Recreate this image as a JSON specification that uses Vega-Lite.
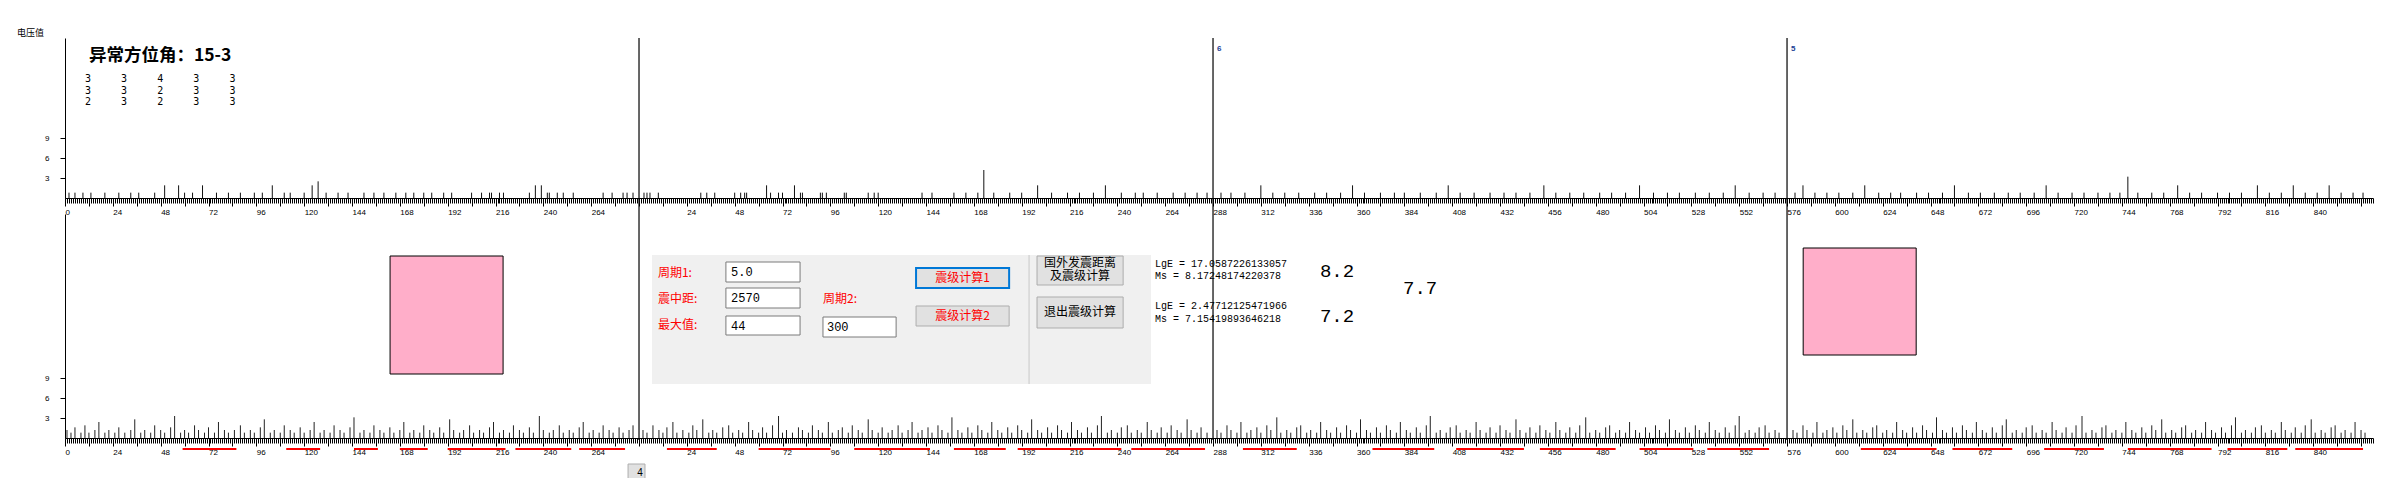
{
"$schema":"https://vega.github.io/schema/vega-lite/v6.json",
"width":2389,"height":478,"autosize":{"type":"none"},"padding":0,"background":"#ffffff",
"config":{"view":{"stroke":null},"axis":{"grid":false}},
"datasets":{
"topbars":[{"p":2,"v":0.8},{"p":5,"v":0.8},{"p":9,"v":0.8},{"p":13,"v":0.8},{"p":20,"v":0.8},{"p":27,"v":0.8},{"p":33,"v":0.8},{"p":37,"v":0.8},{"p":45,"v":0.8},{"p":50,"v":1.9},{"p":57,"v":1.9},{"p":60,"v":0.8},{"p":64,"v":0.8},{"p":69,"v":1.9},{"p":76,"v":0.8},{"p":82,"v":0.8},{"p":88,"v":0.8},{"p":95,"v":0.8},{"p":99,"v":0.8},{"p":104,"v":1.9},{"p":110,"v":0.8},{"p":113,"v":0.8},{"p":120,"v":0.8},{"p":124,"v":1.9},{"p":127,"v":2.5},{"p":131,"v":0.8},{"p":137,"v":0.8},{"p":142,"v":0.8},{"p":150,"v":0.8},{"p":155,"v":0.8},{"p":160,"v":0.8},{"p":166,"v":0.8},{"p":171,"v":0.8},{"p":175,"v":0.8},{"p":180,"v":0.8},{"p":184,"v":0.8},{"p":190,"v":0.8},{"p":194,"v":0.8},{"p":204,"v":0.8},{"p":209,"v":0.8},{"p":213,"v":0.8},{"p":214,"v":0.8},{"p":218,"v":0.8},{"p":220,"v":0.8},{"p":233,"v":0.8},{"p":236,"v":1.9},{"p":239,"v":1.9},{"p":242,"v":0.8},{"p":243,"v":0.8},{"p":247,"v":0.8},{"p":250,"v":0.8},{"p":255,"v":0.8},{"p":270,"v":0.8},{"p":274.5,"v":0.8},{"p":280,"v":0.8},{"p":282,"v":0.8},{"p":285,"v":0.8},
{"p":290.5,"v":0.8},{"p":292,"v":0.8},{"p":293.5,"v":0.8},{"p":297.7,"v":0.8},{"p":319,"v":0.8},{"p":322,"v":0.8},{"p":326,"v":0.8},{"p":336,"v":0.8},{"p":339,"v":0.8},{"p":341,"v":0.8},{"p":342,"v":0.8},{"p":352,"v":1.9},{"p":354,"v":0.8},{"p":358,"v":0.8},{"p":360,"v":0.8},{"p":366,"v":1.9},{"p":369,"v":0.8},{"p":370,"v":0.8},{"p":379,"v":0.8},{"p":380,"v":0.8},{"p":382,"v":0.8},{"p":391,"v":0.8},{"p":392,"v":0.8},{"p":403,"v":0.8},{"p":406,"v":0.8},{"p":408,"v":0.8},{"p":430,"v":0.8},{"p":435,"v":0.8},{"p":446,"v":0.8},{"p":452,"v":0.8},{"p":458,"v":0.8},{"p":461,"v":4.2},{"p":466,"v":0.8},{"p":474,"v":0.8},{"p":480,"v":0.8},{"p":488,"v":1.9},{"p":495,"v":0.8},{"p":503,"v":0.8},{"p":509,"v":0.8},{"p":516,"v":0.8},{"p":522,"v":1.9},{"p":530,"v":0.8},{"p":537,"v":0.8},{"p":541,"v":0.8},{"p":548,"v":0.8},{"p":556,"v":0.8},{"p":562,"v":0.8},{"p":568,"v":0.8},{"p":573,"v":0.8},
{"p":580,"v":0.8},{"p":585,"v":0.8},{"p":592,"v":0.8},{"p":600,"v":1.9},{"p":606,"v":0.8},{"p":612,"v":0.8},{"p":619,"v":0.8},{"p":627,"v":0.8},{"p":633,"v":0.8},{"p":640,"v":0.8},{"p":646,"v":1.9},{"p":652,"v":0.8},{"p":660,"v":0.8},{"p":667,"v":0.8},{"p":672,"v":0.8},{"p":680,"v":0.8},{"p":688,"v":0.8},{"p":694,"v":1.9},{"p":700,"v":0.8},{"p":707,"v":0.8},{"p":715,"v":0.8},{"p":722,"v":0.8},{"p":728,"v":0.8},{"p":735,"v":0.8},{"p":742,"v":1.9},{"p":748,"v":0.8},{"p":755,"v":0.8},{"p":762,"v":0.8},{"p":770,"v":0.8},{"p":776,"v":0.8},{"p":783,"v":0.8},{"p":790,"v":1.9},{"p":797,"v":0.8},{"p":804,"v":0.8},{"p":810,"v":0.8},{"p":818,"v":0.8},{"p":825,"v":0.8},{"p":832,"v":0.8},{"p":838,"v":1.9},{"p":845,"v":0.8},{"p":852,"v":0.8},{"p":858,"v":0.8},
{"p":868,"v":0.8},{"p":872,"v":1.9},{"p":878,"v":0.8},{"p":884,"v":0.8},{"p":890,"v":0.8},{"p":897,"v":0.8},{"p":903,"v":1.9},{"p":910,"v":0.8},{"p":916,"v":0.8},{"p":921,"v":0.8},{"p":929,"v":0.8},{"p":935,"v":0.8},{"p":942,"v":0.8},{"p":948,"v":1.9},{"p":955,"v":0.8},{"p":961,"v":0.8},{"p":968,"v":0.8},{"p":975,"v":0.8},{"p":981,"v":0.8},{"p":988,"v":0.8},{"p":994,"v":1.9},{"p":1000,"v":0.8},{"p":1007,"v":0.8},{"p":1013,"v":0.8},{"p":1020,"v":0.8},{"p":1026,"v":0.8},{"p":1031,"v":0.8},{"p":1035,"v":3.2},{"p":1040,"v":0.8},{"p":1047,"v":0.8},{"p":1053,"v":0.8},{"p":1060,"v":1.9},{"p":1066,"v":0.8},{"p":1072,"v":0.8},{"p":1080,"v":0.8},{"p":1086,"v":0.8},{"p":1092,"v":0.8},{"p":1100,"v":1.9},{"p":1106,"v":0.8},{"p":1112,"v":0.8},{"p":1118,"v":1.9},{"p":1124,"v":0.8},{"p":1130,"v":0.8},{"p":1136,"v":1.9},{"p":1142,"v":0.8},{"p":1148,"v":0.8},{"p":1153,"v":0.8}],
"botbars":[{"p":1,"v":1.2},{"p":3,"v":0.8},{"p":5,"v":1.6},{"p":8,"v":0.8},{"p":10,"v":1.9},{"p":12,"v":0.8},{"p":15,"v":1.2},{"p":17,"v":2.4},{"p":20,"v":0.8},{"p":22,"v":1.2},{"p":25,"v":0.8},{"p":27,"v":1.6},{"p":30,"v":0.8},{"p":33,"v":1.2},{"p":35,"v":2.8},{"p":38,"v":0.8},{"p":40,"v":1.2},{"p":43,"v":0.8},{"p":45,"v":1.9},{"p":48,"v":1.2},{"p":50,"v":0.8},{"p":53,"v":1.6},{"p":55,"v":3.3},{"p":58,"v":0.8},{"p":60,"v":1.2},{"p":62,"v":0.8},{"p":65,"v":1.9},{"p":67,"v":1.2},{"p":70,"v":0.8},{"p":72,"v":1.6},{"p":75,"v":0.8},{"p":77,"v":2.4},{"p":80,"v":1.2},{"p":82,"v":0.8},{"p":85,"v":1.2},{"p":88,"v":1.9},{"p":90,"v":0.8},{"p":93,"v":1.2},{"p":95,"v":0.8},{"p":98,"v":1.6},{"p":100,"v":2.8},{"p":103,"v":0.8},{"p":105,"v":1.2},{"p":108,"v":0.8},{"p":110,"v":1.9},{"p":113,"v":1.2},{"p":115,"v":0.8},{"p":118,"v":1.6},{"p":120,"v":0.8},{"p":123,"v":1.2},{"p":125,"v":2.4},{"p":128,"v":0.8},{"p":130,"v":1.2},{"p":133,"v":0.8},{"p":135,"v":1.9},{"p":138,"v":1.2},{"p":140,"v":0.8},{"p":143,"v":1.6},{"p":145,"v":3.1},{"p":148,"v":0.8},{"p":150,"v":1.2},{"p":153,"v":0.8},{"p":155,"v":1.9},{"p":158,"v":1.2},{"p":160,"v":0.8},{"p":163,"v":1.6},{"p":165,"v":0.8},{"p":168,"v":1.2},{"p":170,"v":2.4},{"p":173,"v":0.8},{"p":175,"v":1.2},{"p":178,"v":0.8},{"p":180,"v":1.9},{"p":183,"v":1.2},{"p":185,"v":0.8},{"p":188,"v":1.6},{"p":190,"v":0.8},{"p":193,"v":2.8},{"p":195,"v":1.2},{"p":198,"v":0.8},{"p":200,"v":1.2},{"p":203,"v":1.9},{"p":205,"v":0.8},{"p":208,"v":1.2},{"p":210,"v":0.8},{"p":213,"v":1.6},{"p":215,"v":2.4},{"p":218,"v":0.8},{"p":220,"v":1.2},{"p":223,"v":0.8},{"p":225,"v":1.9},{"p":228,"v":1.2},{"p":230,"v":0.8},{"p":233,"v":1.6},{"p":235,"v":0.8},{"p":238,"v":3.3},{"p":240,"v":1.2},{"p":243,"v":0.8},{"p":245,"v":1.2},{"p":248,"v":1.9},{"p":250,"v":0.8},{"p":253,"v":1.2},{"p":255,"v":0.8},{"p":258,"v":1.6},{"p":260,"v":2.4},{"p":263,"v":0.8},{"p":265,"v":1.2},{"p":268,"v":0.8},{"p":270,"v":1.9},{"p":273,"v":1.2},{"p":275,"v":0.8},{"p":278,"v":1.6},{"p":280,"v":0.8},{"p":283,"v":1.2},{"p":285,"v":1.9},
{"p":290,"v":1.2},{"p":292,"v":0.8},{"p":295,"v":1.9},{"p":298,"v":1.2},{"p":300,"v":0.8},{"p":302,"v":1.6},{"p":305,"v":2.4},{"p":307,"v":0.8},{"p":310,"v":1.2},{"p":313,"v":0.8},{"p":315,"v":1.9},{"p":317,"v":1.2},{"p":320,"v":2.8},{"p":323,"v":0.8},{"p":325,"v":1.2},{"p":327,"v":0.8},{"p":330,"v":1.6},{"p":333,"v":1.9},{"p":335,"v":0.8},{"p":338,"v":1.2},{"p":340,"v":0.8},{"p":343,"v":2.4},{"p":345,"v":1.2},{"p":348,"v":0.8},{"p":350,"v":1.6},{"p":352,"v":0.8},{"p":355,"v":1.9},{"p":358,"v":3.3},{"p":360,"v":0.8},{"p":362,"v":1.2},{"p":365,"v":0.8},{"p":368,"v":1.6},{"p":370,"v":1.2},{"p":373,"v":0.8},{"p":375,"v":1.9},{"p":378,"v":1.2},{"p":380,"v":0.8},{"p":383,"v":2.4},{"p":385,"v":0.8},{"p":388,"v":1.2},{"p":390,"v":1.6},{"p":393,"v":0.8},{"p":395,"v":1.9},{"p":398,"v":1.2},{"p":400,"v":0.8},{"p":403,"v":2.8},{"p":405,"v":1.2},{"p":408,"v":0.8},{"p":410,"v":1.6},{"p":413,"v":0.8},{"p":415,"v":1.2},{"p":418,"v":1.9},{"p":420,"v":0.8},{"p":423,"v":1.2},{"p":425,"v":2.4},{"p":428,"v":0.8},{"p":430,"v":1.2},{"p":433,"v":1.6},{"p":435,"v":0.8},{"p":438,"v":1.9},{"p":440,"v":1.2},{"p":443,"v":0.8},{"p":445,"v":3.1},{"p":448,"v":1.2},{"p":450,"v":0.8},{"p":453,"v":1.6},{"p":455,"v":0.8},{"p":458,"v":1.9},{"p":460,"v":1.2},{"p":463,"v":0.8},{"p":465,"v":2.4},{"p":468,"v":1.2},{"p":470,"v":0.8},{"p":473,"v":1.6},{"p":475,"v":0.8},{"p":478,"v":1.9},{"p":480,"v":1.2},{"p":483,"v":0.8},{"p":485,"v":2.8},{"p":488,"v":1.2},{"p":490,"v":0.8},{"p":493,"v":1.6},{"p":495,"v":0.8},{"p":498,"v":1.9},{"p":500,"v":1.2},{"p":503,"v":0.8},{"p":505,"v":2.4},{"p":508,"v":1.2},{"p":510,"v":0.8},{"p":513,"v":1.6},{"p":515,"v":0.8},{"p":518,"v":1.9},{"p":520,"v":3.3},{"p":523,"v":0.8},{"p":525,"v":1.2},{"p":528,"v":0.8},{"p":530,"v":1.6},{"p":533,"v":1.9},{"p":535,"v":0.8},{"p":538,"v":1.2},{"p":540,"v":0.8},{"p":543,"v":2.4},{"p":545,"v":1.2},{"p":548,"v":0.8},{"p":550,"v":1.6},{"p":553,"v":0.8},{"p":555,"v":1.9},{"p":558,"v":1.2},{"p":560,"v":0.8},{"p":563,"v":2.8},{"p":565,"v":1.2},{"p":568,"v":0.8},{"p":570,"v":1.6},{"p":573,"v":0.8},
{"p":578,"v":1.2},{"p":580,"v":0.8},{"p":583,"v":1.9},{"p":585,"v":1.2},{"p":588,"v":0.8},{"p":590,"v":2.4},{"p":593,"v":0.8},{"p":595,"v":1.2},{"p":598,"v":1.6},{"p":600,"v":0.8},{"p":603,"v":1.9},{"p":605,"v":1.2},{"p":608,"v":3.1},{"p":610,"v":0.8},{"p":613,"v":1.2},{"p":615,"v":0.8},{"p":618,"v":1.6},{"p":620,"v":1.9},{"p":623,"v":0.8},{"p":625,"v":1.2},{"p":628,"v":0.8},{"p":630,"v":2.4},{"p":633,"v":1.2},{"p":635,"v":0.8},{"p":638,"v":1.6},{"p":640,"v":0.8},{"p":643,"v":1.9},{"p":645,"v":1.2},{"p":648,"v":0.8},{"p":650,"v":2.8},{"p":653,"v":1.2},{"p":655,"v":0.8},{"p":658,"v":1.6},{"p":660,"v":0.8},{"p":663,"v":1.9},{"p":665,"v":1.2},{"p":668,"v":0.8},{"p":670,"v":2.4},{"p":673,"v":1.2},{"p":675,"v":0.8},{"p":678,"v":1.6},{"p":680,"v":0.8},{"p":683,"v":1.9},{"p":685,"v":3.3},{"p":688,"v":0.8},{"p":690,"v":1.2},{"p":693,"v":0.8},{"p":695,"v":1.6},{"p":698,"v":1.9},{"p":700,"v":0.8},{"p":703,"v":1.2},{"p":705,"v":0.8},{"p":708,"v":2.4},{"p":710,"v":1.2},{"p":713,"v":0.8},{"p":715,"v":1.6},{"p":718,"v":0.8},{"p":720,"v":1.9},{"p":723,"v":1.2},{"p":725,"v":0.8},{"p":728,"v":2.8},{"p":730,"v":1.2},{"p":733,"v":0.8},{"p":735,"v":1.6},{"p":738,"v":0.8},{"p":740,"v":1.9},{"p":743,"v":1.2},{"p":745,"v":0.8},{"p":748,"v":2.4},{"p":750,"v":1.2},{"p":753,"v":0.8},{"p":755,"v":1.6},{"p":758,"v":0.8},{"p":760,"v":1.9},{"p":763,"v":3.1},{"p":765,"v":0.8},{"p":768,"v":1.2},{"p":770,"v":0.8},{"p":773,"v":1.6},{"p":775,"v":1.9},{"p":778,"v":0.8},{"p":780,"v":1.2},{"p":783,"v":0.8},{"p":785,"v":2.4},{"p":788,"v":1.2},{"p":790,"v":0.8},{"p":793,"v":1.6},{"p":795,"v":0.8},{"p":798,"v":1.9},{"p":800,"v":1.2},{"p":803,"v":0.8},{"p":805,"v":2.8},{"p":808,"v":1.2},{"p":810,"v":0.8},{"p":813,"v":1.6},{"p":815,"v":0.8},{"p":818,"v":1.9},{"p":820,"v":1.2},{"p":823,"v":0.8},{"p":825,"v":2.4},{"p":828,"v":1.2},{"p":830,"v":0.8},{"p":833,"v":1.6},{"p":835,"v":0.8},{"p":838,"v":1.9},{"p":840,"v":3.3},{"p":843,"v":0.8},{"p":845,"v":1.2},{"p":848,"v":0.8},{"p":850,"v":1.6},{"p":853,"v":1.9},{"p":855,"v":0.8},{"p":858,"v":1.2},{"p":860,"v":0.8},
{"p":867,"v":1.2},{"p":869,"v":0.8},{"p":872,"v":1.9},{"p":874,"v":1.2},{"p":877,"v":0.8},{"p":879,"v":2.4},{"p":882,"v":0.8},{"p":884,"v":1.2},{"p":887,"v":1.6},{"p":889,"v":0.8},{"p":892,"v":1.9},{"p":894,"v":1.2},{"p":897,"v":2.8},{"p":899,"v":0.8},{"p":902,"v":1.2},{"p":904,"v":0.8},{"p":907,"v":1.6},{"p":909,"v":1.9},{"p":912,"v":0.8},{"p":914,"v":1.2},{"p":917,"v":0.8},{"p":919,"v":2.4},{"p":922,"v":1.2},{"p":924,"v":0.8},{"p":927,"v":1.6},{"p":929,"v":0.8},{"p":932,"v":1.9},{"p":934,"v":1.2},{"p":937,"v":0.8},{"p":939,"v":3.1},{"p":942,"v":1.2},{"p":944,"v":0.8},{"p":947,"v":1.6},{"p":949,"v":0.8},{"p":952,"v":1.9},{"p":954,"v":1.2},{"p":957,"v":0.8},{"p":959,"v":2.4},{"p":962,"v":1.2},{"p":964,"v":0.8},{"p":967,"v":1.6},{"p":969,"v":0.8},{"p":972,"v":1.9},{"p":974,"v":2.8},{"p":977,"v":0.8},{"p":979,"v":1.2},{"p":982,"v":0.8},{"p":984,"v":1.6},{"p":987,"v":1.9},{"p":989,"v":0.8},{"p":992,"v":1.2},{"p":994,"v":0.8},{"p":997,"v":2.4},{"p":999,"v":1.2},{"p":1002,"v":0.8},{"p":1004,"v":1.6},{"p":1007,"v":0.8},{"p":1009,"v":1.9},{"p":1012,"v":3.3},{"p":1014,"v":0.8},{"p":1017,"v":1.2},{"p":1019,"v":0.8},{"p":1022,"v":1.6},{"p":1024,"v":1.9},{"p":1027,"v":0.8},{"p":1029,"v":1.2},{"p":1032,"v":0.8},{"p":1034,"v":2.4},{"p":1037,"v":1.2},{"p":1039,"v":0.8},{"p":1042,"v":1.6},{"p":1044,"v":0.8},{"p":1047,"v":1.9},{"p":1049,"v":1.2},{"p":1052,"v":2.8},{"p":1054,"v":0.8},{"p":1057,"v":1.2},{"p":1059,"v":0.8},{"p":1062,"v":1.6},{"p":1064,"v":1.9},{"p":1067,"v":0.8},{"p":1069,"v":1.2},{"p":1072,"v":0.8},{"p":1074,"v":2.4},{"p":1077,"v":1.2},{"p":1079,"v":0.8},{"p":1082,"v":1.6},{"p":1084,"v":0.8},{"p":1087,"v":1.9},{"p":1089,"v":3.1},{"p":1092,"v":0.8},{"p":1094,"v":1.2},{"p":1097,"v":0.8},{"p":1099,"v":1.6},{"p":1102,"v":1.9},{"p":1104,"v":0.8},{"p":1107,"v":1.2},{"p":1109,"v":0.8},{"p":1112,"v":2.4},{"p":1114,"v":1.2},{"p":1117,"v":0.8},{"p":1119,"v":1.6},{"p":1122,"v":0.8},{"p":1124,"v":1.9},{"p":1127,"v":2.8},{"p":1129,"v":0.8},{"p":1132,"v":1.2},{"p":1134,"v":0.8},{"p":1137,"v":1.6},{"p":1139,"v":1.9},{"p":1142,"v":0.8},{"p":1144,"v":1.2},{"p":1147,"v":0.8},{"p":1149,"v":2.4},{"p":1152,"v":1.2},{"p":1154,"v":0.8}],
"redsegs":[{"a":59,"b":86},{"a":111,"b":128},{"a":145,"b":157},{"a":168,"b":182},{"a":192,"b":221},{"a":226,"b":254},{"a":258,"b":281},{"a":302,"b":327},{"a":348,"b":384},{"a":396,"b":434},{"a":446,"b":472},{"a":478,"b":530},{"a":535,"b":572},{"a":591,"b":618},{"a":656,"b":687},{"a":698,"b":732},{"a":740,"b":778},{"a":790,"b":817},{"a":824,"b":855},{"a":901,"b":939},{"a":947,"b":977},{"a":993,"b":1023},{"a":1035,"b":1077},{"a":1085,"b":1115},{"a":1119,"b":1153}],
"seps":[{"p":288,"seg":""},{"p":576,"seg":"6"},{"p":864,"seg":"5"}]
},
"layer":[
 {"data":{"name":"topbars"},"mark":{"type":"rule","color":"#111111","strokeWidth":1},
  "encoding":{
   "x":{"field":"p","type":"quantitative","scale":{"domain":[0,1158],"range":[65,2373],"nice":false,"zero":false},
        "axis":{"orient":"bottom","offset":-280,"tickCount":1158,"grid":false,"domain":true,"domainColor":"#000000","domainWidth":1.2,"ticks":true,"tickColor":"#000000","tickWidth":1,"tickSize":5,"labels":false,"title":null}},
   "y":{"field":"v","type":"quantitative","scale":{"domain":[0,24],"range":[198,38],"nice":false,"zero":false},
        "axis":{"orient":"left","offset":-65,"values":[3,6,9],"grid":false,"domainColor":"#000000","tickColor":"#000000","tickSize":5,"labelFont":"Liberation Sans","labelFontSize":8,"labelColor":"#000000","labelPadding":11,
                "title":"电压值","titleFont":"Noto Sans CJK SC","titleFontSize":9,"titleFontWeight":"normal","titleAngle":0,"titleX":-35,"titleY":32,"titleAlign":"center","titleBaseline":"middle","titleColor":"#000000"}},
   "y2":{"datum":0}}},
 {"data":{"name":"seps"},"mark":{"type":"rule","color":"#000000","strokeWidth":1.2},
  "encoding":{"x":{"field":"p","type":"quantitative","scale":{"domain":[0,1158],"range":[65,2373],"nice":false,"zero":false},
        "axis":{"orient":"bottom","offset":-280,"values":[0,12,24,36,48,60,72,84,96,108,120,132,144,156,168,180,192,204,216,228,240,252,264,276,288,300,312,324,336,348,360,372,384,396,408,420,432,444,456,468,480,492,504,516,528,540,552,564,576,588,600,612,624,636,648,660,672,684,696,708,720,732,744,756,768,780,792,804,816,828,840,852,864,876,888,900,912,924,936,948,960,972,984,996,1008,1020,1032,1044,1056,1068,1080,1092,1104,1116,1128,1140,1152],
                "grid":false,"domain":false,"ticks":true,"tickColor":"#000000","tickWidth":1,"tickSize":8,
                "labelExpr":"(datum.value % 24 !== 0 || datum.value === 288 || datum.value > 1140) ? '' : (datum.value < 288 ? datum.label : format(datum.value - 288, 'd'))",
                "labelAlign":"left","labelBaseline":"top","labelPadding":2,"labelFont":"Liberation Sans","labelFontSize":8,"labelColor":"#000000","labelOverlap":false,"labelFlush":false,"labelBound":false,"title":null}},
   "y":{"datum":24,"type":"quantitative","scale":{"domain":[0,24],"range":[198,38],"nice":false,"zero":false},"axis":null},"y2":{"datum":-36.3}}},
 {"data":{"name":"seps"},"mark":{"type":"text","align":"left","baseline":"middle","dx":4,"font":"Liberation Sans","fontSize":8,"fontWeight":"bold","color":"#1c3f94"},
  "encoding":{"text":{"field":"seg","type":"nominal"},"x":{"field":"p","type":"quantitative","scale":{"domain":[0,1158],"range":[65,2373],"nice":false,"zero":false},"axis":null},
   "y":{"datum":22.35,"type":"quantitative","scale":{"domain":[0,24],"range":[198,38],"nice":false,"zero":false},"axis":null}}},
 {"data":{"values":[{"t":"异常方位角：15-3"}]},"mark":{"type":"text","align":"left","baseline":"middle","font":"Noto Sans CJK SC","fontSize":17.5,"fontWeight":"bold","color":"#000000"},
  "encoding":{"text":{"field":"t","type":"nominal"},"x":{"datum":12,"type":"quantitative","scale":{"domain":[0,1158],"range":[65,2373],"nice":false,"zero":false},"axis":null},
   "y":{"datum":21.3,"type":"quantitative","scale":{"domain":[0,24],"range":[198,38],"nice":false,"zero":false},"axis":null}}},
 {"data":{"values":[{"t":"3\u00a0\u00a0\u00a0\u00a0\u00a03\u00a0\u00a0\u00a0\u00a0\u00a04\u00a0\u00a0\u00a0\u00a0\u00a03\u00a0\u00a0\u00a0\u00a0\u00a03\n3\u00a0\u00a0\u00a0\u00a0\u00a03\u00a0\u00a0\u00a0\u00a0\u00a02\u00a0\u00a0\u00a0\u00a0\u00a03\u00a0\u00a0\u00a0\u00a0\u00a03\n2\u00a0\u00a0\u00a0\u00a0\u00a03\u00a0\u00a0\u00a0\u00a0\u00a02\u00a0\u00a0\u00a0\u00a0\u00a03\u00a0\u00a0\u00a0\u00a0\u00a03"}]},
  "mark":{"type":"text","align":"left","baseline":"middle","lineBreak":"\n","lineHeight":11.5,"font":"DejaVu Sans Mono","fontSize":10,"color":"#000000"},
  "encoding":{"text":{"field":"t","type":"nominal"},"x":{"datum":10,"type":"quantitative","scale":{"domain":[0,1158],"range":[65,2373],"nice":false,"zero":false},"axis":null},
   "y":{"datum":17.8,"type":"quantitative","scale":{"domain":[0,24],"range":[198,38],"nice":false,"zero":false},"axis":null}}},
 {"data":{"name":"botbars"},"mark":{"type":"rule","color":"#222222","strokeWidth":1},
  "encoding":{
   "x":{"field":"p","type":"quantitative","scale":{"domain":[0,1158],"range":[65,2373],"nice":false,"zero":false},
        "axis":{"orient":"bottom","offset":-40,"tickCount":1158,"grid":false,"domain":true,"domainColor":"#000000","domainWidth":1.2,"ticks":true,"tickColor":"#000000","tickWidth":1,"tickSize":5,"labels":false,"title":null}},
   "y":{"field":"v","type":"quantitative","scale":{"domain":[0,33.6],"range":[438,214],"nice":false,"zero":false},
        "axis":{"orient":"left","offset":-65,"values":[3,6,9],"grid":false,"domainColor":"#000000","tickColor":"#000000","tickSize":5,"labelFont":"Liberation Sans","labelFontSize":8,"labelColor":"#000000","labelPadding":11,"title":null}},
   "y2":{"datum":0}}},
 {"data":{"name":"redsegs"},"mark":{"type":"rule","color":"#ff0000","strokeWidth":2},
  "encoding":{"x":{"field":"a","type":"quantitative","scale":{"domain":[0,1158],"range":[65,2373],"nice":false,"zero":false},
        "axis":{"orient":"bottom","offset":-40,"values":[0,12,24,36,48,60,72,84,96,108,120,132,144,156,168,180,192,204,216,228,240,252,264,276,288,300,312,324,336,348,360,372,384,396,408,420,432,444,456,468,480,492,504,516,528,540,552,564,576,588,600,612,624,636,648,660,672,684,696,708,720,732,744,756,768,780,792,804,816,828,840,852,864,876,888,900,912,924,936,948,960,972,984,996,1008,1020,1032,1044,1056,1068,1080,1092,1104,1116,1128,1140,1152],
                "grid":false,"domain":false,"ticks":true,"tickColor":"#000000","tickWidth":1,"tickSize":8,
                "labelExpr":"(datum.value % 24 !== 0 || datum.value === 288 || datum.value > 1140) ? '' : (datum.value < 288 ? datum.label : format(datum.value - 288, 'd'))",
                "labelAlign":"left","labelBaseline":"top","labelPadding":2,"labelFont":"Liberation Sans","labelFontSize":8,"labelColor":"#000000","labelOverlap":false,"labelFlush":false,"labelBound":false,"title":null}},
   "x2":{"field":"b"},
   "y":{"datum":-1.65,"type":"quantitative","scale":{"domain":[0,33.6],"range":[438,214],"nice":false,"zero":false},"axis":null}}},
 {"data":{"values":[{}]},"mark":{"type":"rect","fill":"#ffaec9","stroke":"#000000","strokeWidth":1},
  "encoding":{"x":{"datum":163.1,"type":"quantitative","scale":{"domain":[0,1158],"range":[65,2373],"nice":false,"zero":false},"axis":null},"x2":{"datum":219.8},
   "y":{"datum":27.3,"type":"quantitative","scale":{"domain":[0,33.6],"range":[438,214],"nice":false,"zero":false},"axis":null},"y2":{"datum":9.6}}},
 {"data":{"values":[{}]},"mark":{"type":"rect","fill":"#ffaec9","stroke":"#000000","strokeWidth":1},
  "encoding":{"x":{"datum":872.1,"type":"quantitative","scale":{"domain":[0,1158],"range":[65,2373],"nice":false,"zero":false},"axis":null},"x2":{"datum":928.8},
   "y":{"datum":28.5,"type":"quantitative","scale":{"domain":[0,33.6],"range":[438,214],"nice":false,"zero":false},"axis":null},"y2":{"datum":12.45}}},
 {"data":{"values":[{}]},"mark":{"type":"rect","fill":"#f0f0f0"},
  "encoding":{"x":{"datum":294.5,"type":"quantitative","scale":{"domain":[0,1158],"range":[65,2373],"nice":false,"zero":false},"axis":null},"x2":{"datum":544.9},
   "y":{"datum":27.45,"type":"quantitative","scale":{"domain":[0,33.6],"range":[438,214],"nice":false,"zero":false},"axis":null},"y2":{"datum":8.1}}},
 {"data":{"values":[{}]},"mark":{"type":"rule","color":"#c8c8c8","strokeWidth":1},
  "encoding":{"x":{"datum":483.7,"type":"quantitative","scale":{"domain":[0,1158],"range":[65,2373],"nice":false,"zero":false},"axis":null},
   "y":{"datum":27.45,"type":"quantitative","scale":{"domain":[0,33.6],"range":[438,214],"nice":false,"zero":false},"axis":null},"y2":{"datum":8.1}}},
 {"data":{"values":[{}]},"mark":{"type":"rect","fill":"#ffffff","stroke":"#7a7a7a","strokeWidth":1},
  "encoding":{"x":{"datum":331.6,"type":"quantitative","scale":{"domain":[0,1158],"range":[65,2373],"nice":false,"zero":false},"axis":null},"x2":{"datum":368.8},
   "y":{"datum":26.4,"type":"quantitative","scale":{"domain":[0,33.6],"range":[438,214],"nice":false,"zero":false},"axis":null},"y2":{"datum":23.4}}},
 {"data":{"values":[{}]},"mark":{"type":"rect","fill":"#ffffff","stroke":"#7a7a7a","strokeWidth":1},
  "encoding":{"x":{"datum":331.6,"type":"quantitative","scale":{"domain":[0,1158],"range":[65,2373],"nice":false,"zero":false},"axis":null},"x2":{"datum":368.8},
   "y":{"datum":22.5,"type":"quantitative","scale":{"domain":[0,33.6],"range":[438,214],"nice":false,"zero":false},"axis":null},"y2":{"datum":19.5}}},
 {"data":{"values":[{}]},"mark":{"type":"rect","fill":"#ffffff","stroke":"#7a7a7a","strokeWidth":1},
  "encoding":{"x":{"datum":331.6,"type":"quantitative","scale":{"domain":[0,1158],"range":[65,2373],"nice":false,"zero":false},"axis":null},"x2":{"datum":368.8},
   "y":{"datum":18.3,"type":"quantitative","scale":{"domain":[0,33.6],"range":[438,214],"nice":false,"zero":false},"axis":null},"y2":{"datum":15.45}}},
 {"data":{"values":[{}]},"mark":{"type":"rect","fill":"#ffffff","stroke":"#7a7a7a","strokeWidth":1},
  "encoding":{"x":{"datum":380.3,"type":"quantitative","scale":{"domain":[0,1158],"range":[65,2373],"nice":false,"zero":false},"axis":null},"x2":{"datum":417},
   "y":{"datum":18.15,"type":"quantitative","scale":{"domain":[0,33.6],"range":[438,214],"nice":false,"zero":false},"axis":null},"y2":{"datum":15.15}}},
 {"data":{"values":[{}]},"mark":{"type":"rect","fill":"#e1e1e1","stroke":"#0078d7","strokeWidth":2},
  "encoding":{"x":{"datum":427,"type":"quantitative","scale":{"domain":[0,1158],"range":[65,2373],"nice":false,"zero":false},"axis":null},"x2":{"datum":473.7},
   "y":{"datum":25.5,"type":"quantitative","scale":{"domain":[0,33.6],"range":[438,214],"nice":false,"zero":false},"axis":null},"y2":{"datum":22.5}}},
 {"data":{"values":[{}]},"mark":{"type":"rect","fill":"#e1e1e1","stroke":"#adadad","strokeWidth":1},
  "encoding":{"x":{"datum":427,"type":"quantitative","scale":{"domain":[0,1158],"range":[65,2373],"nice":false,"zero":false},"axis":null},"x2":{"datum":473.7},
   "y":{"datum":19.8,"type":"quantitative","scale":{"domain":[0,33.6],"range":[438,214],"nice":false,"zero":false},"axis":null},"y2":{"datum":16.8}}},
 {"data":{"values":[{}]},"mark":{"type":"rect","fill":"#e1e1e1","stroke":"#adadad","strokeWidth":1},
  "encoding":{"x":{"datum":487.7,"type":"quantitative","scale":{"domain":[0,1158],"range":[65,2373],"nice":false,"zero":false},"axis":null},"x2":{"datum":530.9},
   "y":{"datum":27.3,"type":"quantitative","scale":{"domain":[0,33.6],"range":[438,214],"nice":false,"zero":false},"axis":null},"y2":{"datum":22.95}}},
 {"data":{"values":[{}]},"mark":{"type":"rect","fill":"#e1e1e1","stroke":"#adadad","strokeWidth":1},
  "encoding":{"x":{"datum":487.7,"type":"quantitative","scale":{"domain":[0,1158],"range":[65,2373],"nice":false,"zero":false},"axis":null},"x2":{"datum":530.9},
   "y":{"datum":21.15,"type":"quantitative","scale":{"domain":[0,33.6],"range":[438,214],"nice":false,"zero":false},"axis":null},"y2":{"datum":16.5}}},
 {"data":{"values":[{}]},"mark":{"type":"rect","fill":"#e1e1e1","stroke":"#adadad","strokeWidth":1},
  "encoding":{"x":{"datum":282.5,"type":"quantitative","scale":{"domain":[0,1158],"range":[65,2373],"nice":false,"zero":false},"axis":null},"x2":{"datum":291},
   "y":{"datum":-3.9,"type":"quantitative","scale":{"domain":[0,33.6],"range":[438,214],"nice":false,"zero":false},"axis":null},"y2":{"datum":-6.6}}},
 {"data":{"values":[{"t":"周期1:"}]},"mark":{"type":"text","align":"left","baseline":"middle","font":"Noto Sans CJK SC","fontSize":12,"color":"#ff0000"},
  "encoding":{"text":{"field":"t","type":"nominal"},"x":{"datum":297.5,"type":"quantitative","scale":{"domain":[0,1158],"range":[65,2373],"nice":false,"zero":false},"axis":null},
   "y":{"datum":24.75,"type":"quantitative","scale":{"domain":[0,33.6],"range":[438,214],"nice":false,"zero":false},"axis":null}}},
 {"data":{"values":[{"t":"震中距:"}]},"mark":{"type":"text","align":"left","baseline":"middle","font":"Noto Sans CJK SC","fontSize":12,"color":"#ff0000"},
  "encoding":{"text":{"field":"t","type":"nominal"},"x":{"datum":297.5,"type":"quantitative","scale":{"domain":[0,1158],"range":[65,2373],"nice":false,"zero":false},"axis":null},
   "y":{"datum":20.85,"type":"quantitative","scale":{"domain":[0,33.6],"range":[438,214],"nice":false,"zero":false},"axis":null}}},
 {"data":{"values":[{"t":"最大值:"}]},"mark":{"type":"text","align":"left","baseline":"middle","font":"Noto Sans CJK SC","fontSize":12,"color":"#ff0000"},
  "encoding":{"text":{"field":"t","type":"nominal"},"x":{"datum":297.5,"type":"quantitative","scale":{"domain":[0,1158],"range":[65,2373],"nice":false,"zero":false},"axis":null},
   "y":{"datum":16.95,"type":"quantitative","scale":{"domain":[0,33.6],"range":[438,214],"nice":false,"zero":false},"axis":null}}},
 {"data":{"values":[{"t":"周期2:"}]},"mark":{"type":"text","align":"left","baseline":"middle","font":"Noto Sans CJK SC","fontSize":12,"color":"#ff0000"},
  "encoding":{"text":{"field":"t","type":"nominal"},"x":{"datum":380.3,"type":"quantitative","scale":{"domain":[0,1158],"range":[65,2373],"nice":false,"zero":false},"axis":null},
   "y":{"datum":20.85,"type":"quantitative","scale":{"domain":[0,33.6],"range":[438,214],"nice":false,"zero":false},"axis":null}}},
 {"data":{"values":[{"t":"5.0"}]},"mark":{"type":"text","align":"left","baseline":"middle","font":"Liberation Mono","fontSize":12,"color":"#000000"},
  "encoding":{"text":{"field":"t","type":"nominal"},"x":{"datum":334.2,"type":"quantitative","scale":{"domain":[0,1158],"range":[65,2373],"nice":false,"zero":false},"axis":null},
   "y":{"datum":24.9,"type":"quantitative","scale":{"domain":[0,33.6],"range":[438,214],"nice":false,"zero":false},"axis":null}}},
 {"data":{"values":[{"t":"2570"}]},"mark":{"type":"text","align":"left","baseline":"middle","font":"Liberation Mono","fontSize":12,"color":"#000000"},
  "encoding":{"text":{"field":"t","type":"nominal"},"x":{"datum":334.2,"type":"quantitative","scale":{"domain":[0,1158],"range":[65,2373],"nice":false,"zero":false},"axis":null},
   "y":{"datum":21.0,"type":"quantitative","scale":{"domain":[0,33.6],"range":[438,214],"nice":false,"zero":false},"axis":null}}},
 {"data":{"values":[{"t":"44"}]},"mark":{"type":"text","align":"left","baseline":"middle","font":"Liberation Mono","fontSize":12,"color":"#000000"},
  "encoding":{"text":{"field":"t","type":"nominal"},"x":{"datum":334.2,"type":"quantitative","scale":{"domain":[0,1158],"range":[65,2373],"nice":false,"zero":false},"axis":null},
   "y":{"datum":16.87,"type":"quantitative","scale":{"domain":[0,33.6],"range":[438,214],"nice":false,"zero":false},"axis":null}}},
 {"data":{"values":[{"t":"300"}]},"mark":{"type":"text","align":"left","baseline":"middle","font":"Liberation Mono","fontSize":12,"color":"#000000"},
  "encoding":{"text":{"field":"t","type":"nominal"},"x":{"datum":382.3,"type":"quantitative","scale":{"domain":[0,1158],"range":[65,2373],"nice":false,"zero":false},"axis":null},
   "y":{"datum":16.65,"type":"quantitative","scale":{"domain":[0,33.6],"range":[438,214],"nice":false,"zero":false},"axis":null}}},
 {"data":{"values":[{"t":"震级计算1"}]},"mark":{"type":"text","align":"center","baseline":"middle","font":"Noto Sans CJK SC","fontSize":12,"color":"#ff0000"},
  "encoding":{"text":{"field":"t","type":"nominal"},"x":{"datum":450.4,"type":"quantitative","scale":{"domain":[0,1158],"range":[65,2373],"nice":false,"zero":false},"axis":null},
   "y":{"datum":24.0,"type":"quantitative","scale":{"domain":[0,33.6],"range":[438,214],"nice":false,"zero":false},"axis":null}}},
 {"data":{"values":[{"t":"震级计算2"}]},"mark":{"type":"text","align":"center","baseline":"middle","font":"Noto Sans CJK SC","fontSize":12,"color":"#ff0000"},
  "encoding":{"text":{"field":"t","type":"nominal"},"x":{"datum":450.4,"type":"quantitative","scale":{"domain":[0,1158],"range":[65,2373],"nice":false,"zero":false},"axis":null},
   "y":{"datum":18.3,"type":"quantitative","scale":{"domain":[0,33.6],"range":[438,214],"nice":false,"zero":false},"axis":null}}},
 {"data":{"values":[{"t":"国外发震距离\n及震级计算"}]},"mark":{"type":"text","align":"center","baseline":"middle","lineBreak":"\n","lineHeight":13,"font":"Noto Sans CJK SC","fontSize":12,"color":"#000000"},
  "encoding":{"text":{"field":"t","type":"nominal"},"x":{"datum":509.3,"type":"quantitative","scale":{"domain":[0,1158],"range":[65,2373],"nice":false,"zero":false},"axis":null},
   "y":{"datum":26.25,"type":"quantitative","scale":{"domain":[0,33.6],"range":[438,214],"nice":false,"zero":false},"axis":null}}},
 {"data":{"values":[{"t":"退出震级计算"}]},"mark":{"type":"text","align":"center","baseline":"middle","font":"Noto Sans CJK SC","fontSize":12,"color":"#000000"},
  "encoding":{"text":{"field":"t","type":"nominal"},"x":{"datum":509.3,"type":"quantitative","scale":{"domain":[0,1158],"range":[65,2373],"nice":false,"zero":false},"axis":null},
   "y":{"datum":18.83,"type":"quantitative","scale":{"domain":[0,33.6],"range":[438,214],"nice":false,"zero":false},"axis":null}}},
 {"data":{"values":[{"t":"LgE = 17.0587226133057\nMs = 8.17248174220378"}]},"mark":{"type":"text","align":"left","baseline":"middle","lineBreak":"\n","lineHeight":12,"font":"Liberation Mono","fontSize":10,"color":"#000000"},
  "encoding":{"text":{"field":"t","type":"nominal"},"x":{"datum":546.9,"type":"quantitative","scale":{"domain":[0,1158],"range":[65,2373],"nice":false,"zero":false},"axis":null},
   "y":{"datum":26.1,"type":"quantitative","scale":{"domain":[0,33.6],"range":[438,214],"nice":false,"zero":false},"axis":null}}},
 {"data":{"values":[{"t":"LgE = 2.47712125471966\nMs = 7.15419893646218"}]},"mark":{"type":"text","align":"left","baseline":"middle","lineBreak":"\n","lineHeight":13,"font":"Liberation Mono","fontSize":10,"color":"#000000"},
  "encoding":{"text":{"field":"t","type":"nominal"},"x":{"datum":546.9,"type":"quantitative","scale":{"domain":[0,1158],"range":[65,2373],"nice":false,"zero":false},"axis":null},
   "y":{"datum":19.8,"type":"quantitative","scale":{"domain":[0,33.6],"range":[438,214],"nice":false,"zero":false},"axis":null}}},
 {"data":{"values":[{"t":"8.2"}]},"mark":{"type":"text","align":"center","baseline":"middle","font":"Liberation Mono","fontSize":19,"color":"#000000"},
  "encoding":{"text":{"field":"t","type":"nominal"},"x":{"datum":638.2,"type":"quantitative","scale":{"domain":[0,1158],"range":[65,2373],"nice":false,"zero":false},"axis":null},
   "y":{"datum":25.05,"type":"quantitative","scale":{"domain":[0,33.6],"range":[438,214],"nice":false,"zero":false},"axis":null}}},
 {"data":{"values":[{"t":"7.7"}]},"mark":{"type":"text","align":"center","baseline":"middle","font":"Liberation Mono","fontSize":19,"color":"#000000"},
  "encoding":{"text":{"field":"t","type":"nominal"},"x":{"datum":679.9,"type":"quantitative","scale":{"domain":[0,1158],"range":[65,2373],"nice":false,"zero":false},"axis":null},
   "y":{"datum":22.5,"type":"quantitative","scale":{"domain":[0,33.6],"range":[438,214],"nice":false,"zero":false},"axis":null}}},
 {"data":{"values":[{"t":"7.2"}]},"mark":{"type":"text","align":"center","baseline":"middle","font":"Liberation Mono","fontSize":19,"color":"#000000"},
  "encoding":{"text":{"field":"t","type":"nominal"},"x":{"datum":638.2,"type":"quantitative","scale":{"domain":[0,1158],"range":[65,2373],"nice":false,"zero":false},"axis":null},
   "y":{"datum":18.3,"type":"quantitative","scale":{"domain":[0,33.6],"range":[438,214],"nice":false,"zero":false},"axis":null}}},
 {"data":{"values":[{"t":"4"}]},"mark":{"type":"text","align":"center","baseline":"middle","font":"Liberation Sans","fontSize":10,"color":"#000000"},
  "encoding":{"text":{"field":"t","type":"nominal"},"x":{"datum":288.5,"type":"quantitative","scale":{"domain":[0,1158],"range":[65,2373],"nice":false,"zero":false},"axis":null},
   "y":{"datum":-5.3,"type":"quantitative","scale":{"domain":[0,33.6],"range":[438,214],"nice":false,"zero":false},"axis":null}}}
],
"resolve":{"scale":{"y":"independent"},"axis":{"x":"independent","y":"independent"}}
}
